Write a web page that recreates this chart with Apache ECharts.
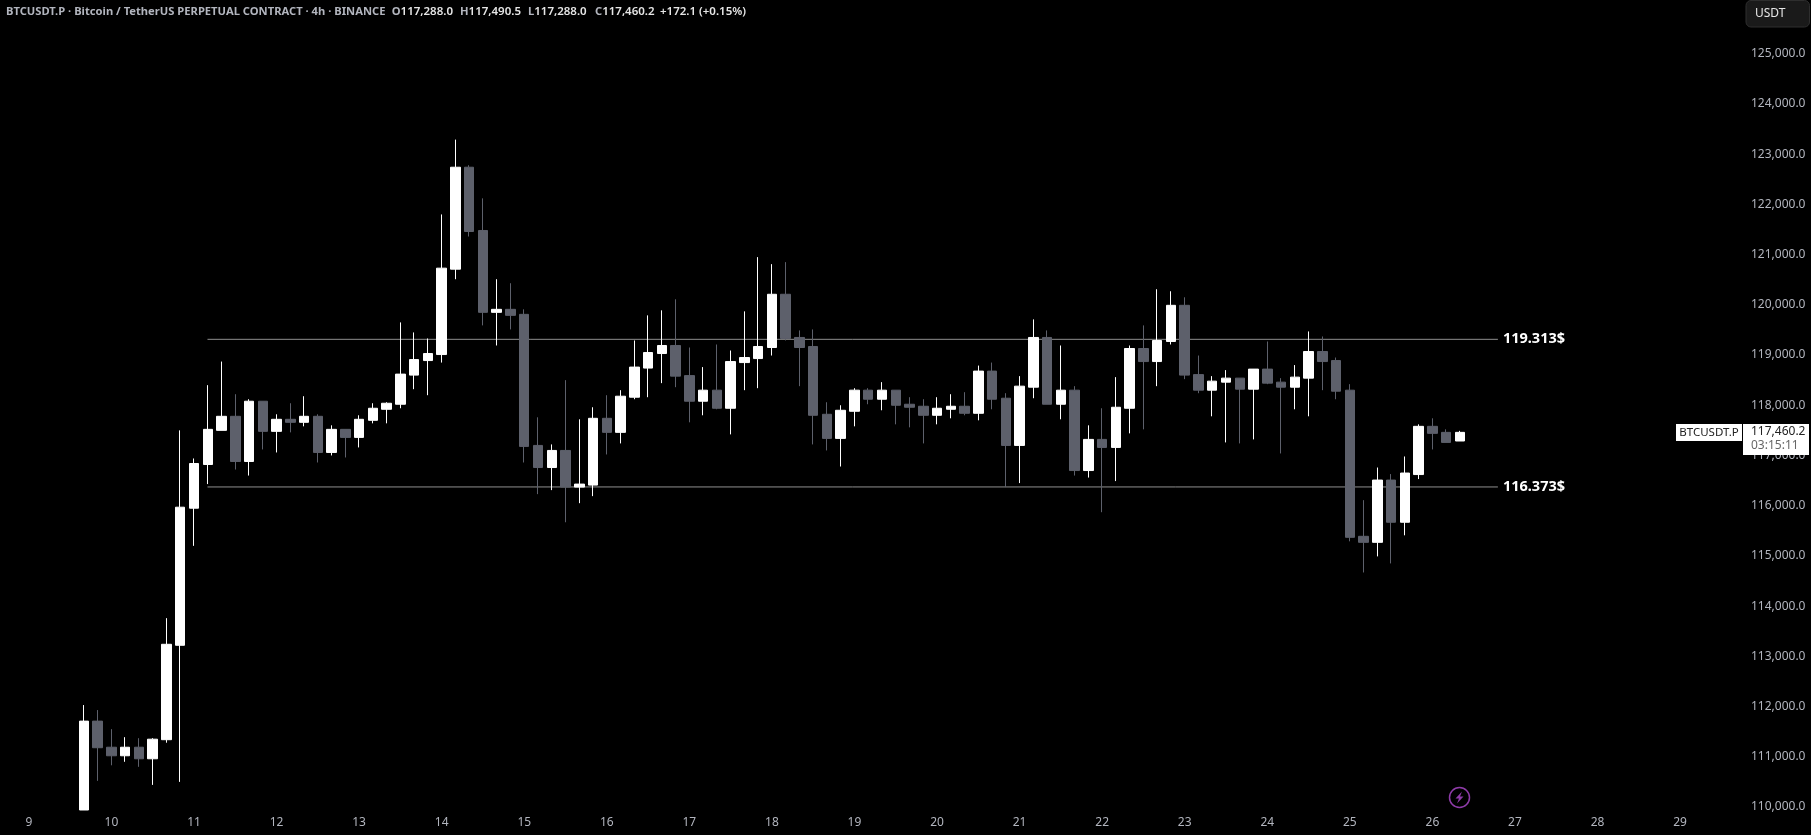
<!DOCTYPE html>
<html><head><meta charset="utf-8">
<style>html,body{margin:0;padding:0;background:#000}#c{width:1811px;height:835px}</style>
<script src="https://cdn.jsdelivr.net/npm/echarts@6/dist/echarts.min.js"></script>
</head><body><div id="c"></div>
<script>
const FONT = '"Noto Sans", sans-serif';
const dayLabels = ['9','10','11','12','13','14','15','16','17','18','19','20','21','22','23','24','25','26','27','28','29'];
const candlesPerDay = 6, extraSlots = 5;
const yTicks = [110000,111000,112000,113000,114000,115000,116000,117000,118000,119000,120000,121000,122000,123000,124000,125000];
const leading = [null,null,null,null];
const opens = [109940,111710,111190,111020,111190,110960,111340,113220,115950,116820,117500,117780,116880,118080,117480,117720,117660,117780,117060,117520,117360,117700,117920,118020,118600,118890,119010,120710,122740,121480,119850,119910,119810,117200,116760,117100,116370,116410,117740,117460,118160,118740,119030,119190,118590,118080,118300,117940,118850,118930,119150,120210,119350,119170,117820,117340,117880,118300,118120,118300,118020,117980,117800,117920,117980,117840,118680,118140,117200,118360,119350,118020,118300,116700,117320,117160,117940,119130,118870,119270,119990,118610,118300,118460,118540,118320,118720,118460,118360,118540,119070,118890,118300,115390,115270,116510,115670,116620,117580,117460,117288];
const closes = [111710,111180,111020,111190,110960,111350,113240,115970,116840,117520,117780,116880,118080,117480,117720,117660,117780,117060,117520,117360,117720,117940,118040,118620,118910,119030,120730,122740,121460,119850,119910,119790,117180,116760,117100,116370,116430,117740,117460,118180,118760,119050,119190,118580,118080,118300,117940,118870,118950,119170,120210,119330,119150,117800,117340,117900,118300,118120,118300,118000,117960,117800,117940,117980,117840,118680,118120,117200,118380,119350,118020,118300,116700,117320,117160,117960,119130,118870,119290,119990,118600,118300,118480,118540,118320,118720,118440,118360,118560,119070,118870,118280,115370,115270,116510,115670,116650,117580,117440,117260,117460.2];
const lows = [109940,110520,110830,110900,110800,110440,111280,110500,115200,116430,117500,116720,116600,117120,117060,117460,117580,116860,117000,116960,117160,117640,117640,117940,118320,118200,118850,120510,121360,119590,119190,119510,116860,116230,116310,115670,116050,116190,117020,117240,118120,118160,118440,118360,117660,117800,117920,117420,118300,118340,118990,119290,118380,117220,117100,116780,117580,118020,117900,117620,117560,117240,117620,117740,117800,117700,117920,116370,116450,118140,118020,117720,116600,116560,115870,116490,117440,117520,118380,119210,118520,118240,117780,117260,117240,117320,118420,117040,117920,117780,118300,118120,115290,114670,114990,114850,115410,116530,117120,117260,117288];
const highs = [112030,111930,111550,111390,111370,111370,113760,117500,116940,118400,118870,118220,118120,118080,117820,118040,118180,117820,117600,117520,117800,118040,118060,119650,119450,119330,121800,123290,122780,122120,120510,120430,119910,117760,117220,118500,117720,117960,118200,118300,119290,119790,119890,120110,119150,118760,119210,119090,119870,120950,120810,120850,119490,119510,118060,118000,118340,118340,118460,118300,118160,118120,118160,118220,118260,118790,118850,118240,118580,119710,119490,119190,118380,117600,117940,118560,119190,119590,120310,120270,120150,118990,118580,118700,118540,118720,119270,118540,118800,119470,119370,118950,118420,116110,116760,116630,116980,117620,117740,117520,117490.5];
const upperLevel = 119313, lowerLevel = 116373;
const levelStart = 12.98, levelEnd = 106.76;

const categories = [];
dayLabels.forEach(d => { categories.push(d); for (let i = 1; i < candlesPerDay; i++) categories.push(d + '-' + i); });
for (let i = 0; i < extraSlots; i++) categories.push('end-' + i);
categories.length = 125;

const ohlc = leading.concat(opens.map((o, i) => [o, closes[i], lows[i], highs[i]])).map(v => v === null ? ['-','-','-','-'] : v);

const grey = '#5d606b', AX = '#b2b5be';
const levelSeries = (v, name) => ({
  type: 'line', name, xAxisIndex: 1, yAxisIndex: 0, symbol: 'none', silent: true, z: 1,
  lineStyle: { color: '#8f8f8f', width: 1 },
  data: [[levelStart, v], [levelEnd, v]],
  endLabel: { show: true, distance: 5, color: '#fff', fontFamily: FONT, fontWeight: 700, fontSize: 14.5,
    formatter: () => (v / 1000).toFixed(3) + '$' }
});

const rich = {
  g: { color: AX, fontFamily: FONT, fontSize: 11.2 },
  w: { color: '#e6e6e6', fontFamily: FONT, fontSize: 11.5, fontWeight: 600 }
};
const headerParts = [
  [6, '{g|BTCUSDT.P · Bitcoin / TetherUS PERPETUAL CONTRACT · 4h · BINANCE}'],
  [391.7, '{g|O}{w|117,288.0}'],
  [460, '{g|H}{w|117,490.5}'],
  [528, '{g|L}{w|117,288.0}'],
  [595, '{g|C}{w|117,460.2}'],
  [660, '{w|+172.1 (+0.15%)}']
];

const chart = echarts.init(document.getElementById('c'), null, { renderer: 'canvas' });
chart.setOption({
  animation: false,
  backgroundColor: '#000',
  grid: { left: 22, top: 0, width: 1720, height: 810 },
  title: headerParts.map(([left, text]) => ({ left, top: 6, padding: 0, text, textStyle: { rich } })),
  xAxis: [{
    type: 'category', data: categories, boundaryGap: true,
    axisLine: { show: false }, axisTick: { show: false }, splitLine: { show: false },
    axisLabel: { color: AX, fontFamily: FONT, fontSize: 12, margin: 7,
      interval: i => i % candlesPerDay === 0, formatter: v => v.split('-')[0] }
  }, {
    type: 'value', min: -0.5, max: 124.5, show: false
  }],
  yAxis: [{
    type: 'value', position: 'right', min: 109940, max: 126070, scale: true,
    axisLine: { show: false }, axisTick: { show: false, customValues: yTicks }, splitLine: { show: false },
    axisLabel: { color: AX, fontFamily: FONT, fontSize: 12, margin: 9, padding: [0, 0, 2, 0], customValues: yTicks,
      formatter: v => v.toLocaleString('en-US', { minimumFractionDigits: 1, maximumFractionDigits: 1 }) }
  }],
  series: [
    levelSeries(upperLevel, 'upper'),
    levelSeries(lowerLevel, 'lower'),
    {
      type: 'candlestick', z: 3, xAxisIndex: 0, yAxisIndex: 0, barWidth: 10,
      itemStyle: { color: '#fff', color0: grey, borderColor: '#fff', borderColor0: grey, borderWidth: 1 },
      data: ohlc
    }
  ],
  graphic: [
    { type: 'rect', z: 100, shape: { x: 1746, y: 0.5, width: 63.5, height: 26.5, r: 5 }, style: { fill: '#1a1a1a', stroke: '#2e2e2e', lineWidth: 1 } },
    { type: 'text', z: 101, style: { x: 1755, y: 14, text: 'USDT', fill: '#e6e6e6', font: '12px ' + FONT, textVerticalAlign: 'middle' } },
    { type: 'rect', z: 100, shape: { x: 1676, y: 424, width: 66, height: 17 }, style: { fill: '#fff' } },
    { type: 'text', z: 101, style: { x: 1709, y: 433, text: 'BTCUSDT.P', fill: '#222', font: '11.5px ' + FONT, textAlign: 'center', textVerticalAlign: 'middle' } },
    { type: 'rect', z: 100, shape: { x: 1743, y: 424, width: 66, height: 31 }, style: { fill: '#fff' } },
    { type: 'text', z: 101, style: { x: 1751, y: 432, text: '117,460.2', fill: '#222', font: '12px ' + FONT, textVerticalAlign: 'middle' } },
    { type: 'text', z: 101, style: { x: 1751, y: 446, text: '03:15:11', fill: '#666', font: '12px ' + FONT, textVerticalAlign: 'middle' } },
    { type: 'circle', z: 100, shape: { cx: 1459.5, cy: 797.5, r: 10 }, style: { fill: 'none', stroke: '#8e3ba8', lineWidth: 1.5 } },
    { type: 'polygon', z: 101, shape: { points: [[1462,791.5],[1455.5,798.5],[1459,798.5],[1457,803.5],[1463.5,796.5],[1460,796.5]] }, style: { fill: '#8e3ba8' } }
  ]
});
</script></body></html>
